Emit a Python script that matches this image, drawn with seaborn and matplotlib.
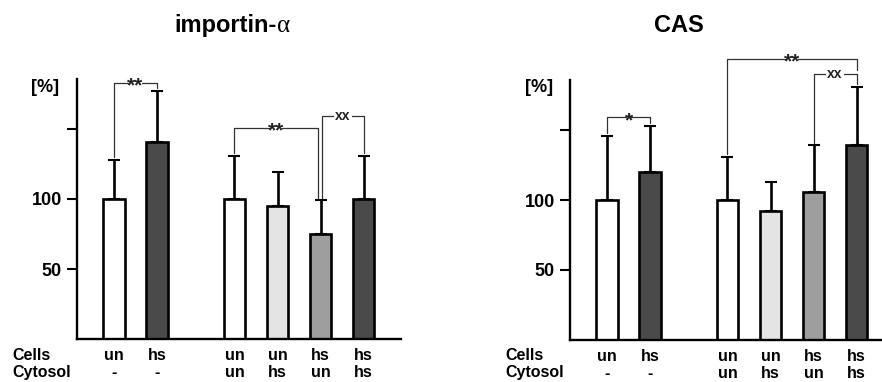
import pandas as pd
import numpy as np
import matplotlib
matplotlib.use('Agg')
import matplotlib.pyplot as plt
import seaborn as sns

# ── Data ─────────────────────────────────────────────────────────────────────
positions = [0, 1, 2.8, 3.8, 4.8, 5.8]
cells     = ['un', 'hs', 'un', 'un', 'hs', 'hs']
cytosol   = ['-', '-', 'un', 'hs', 'un', 'hs']
bar_ids   = ['b0', 'b1', 'b2', 'b3', 'b4', 'b5']
bar_cols  = ['#ffffff', '#4a4a4a', '#ffffff', '#e4e4e4', '#9e9e9e', '#4a4a4a']

imp_mean = [100, 141, 100, 95, 75, 100]
imp_err  = [28, 36, 31, 24, 24, 31]
cas_mean = [100, 120, 100, 92, 106, 139]
cas_err  = [46, 33, 31, 21, 33, 42]

# brackets: (left bar, right bar, height, label, left leg end, right leg end, left shift, right shift)
imp_brackets = [(0, 1, 183, '**', 130, 179, 0, 0),
                (2, 4, 151, '**', 133, 101, 0, -0.07),
                (4, 5, 159, 'xx', 101, 133, 0.03, 0)]
cas_brackets = [(0, 1, 159, '*', 148, 155, 0, 0),
                (2, 5, 201, '**', 133, 193, 0, 0),
                (4, 5, 190, 'xx', 141, 183, 0, 0)]

# ── Style ────────────────────────────────────────────────────────────────────
sns.set_style('ticks')
plt.rcParams['font.family'] = ['Liberation Sans', 'DejaVu Sans']
plt.rcParams['font.weight'] = 'bold'
plt.rcParams['text.color'] = 'black'
plt.rcParams['ytick.color'] = 'black'
plt.rcParams['axes.edgecolor'] = 'black'

fig = plt.figure(figsize=(8.82, 3.82), dpi=100)
W, H = 882, 382
ax_imp = fig.add_axes([77 / W, 1 - 339 / H, 324 / W, 287 / H])
ax_cas = fig.add_axes([570 / W, 1 - 340 / H, 324 / W, 287 / H])


def draw_panel(ax, means, errs, brackets):
    df = pd.DataFrame({'pos': positions, 'val': means, 'bar': bar_ids})
    sns.barplot(data=df, x='pos', y='val', hue='bar', palette=dict(zip(bar_ids, bar_cols)),
                native_scale=True, dodge=False, width=0.49, errorbar=None,
                edgecolor='black', linewidth=1.9, legend=False, ax=ax)
    ax.errorbar(positions, means, yerr=[np.zeros(len(errs)), errs], fmt='none',
                ecolor='black', elinewidth=1.9, capsize=4, capthick=1.5, zorder=3)
    for i, j, y, lab, yl, yr, dl, dr in brackets:
        xl, xr = positions[i] + dl, positions[j] + dr
        ax.plot([xl, xl, xr, xr], [yl, y, y, yr], color='#333333', lw=0.9,
                clip_on=False, zorder=2)
        if '*' in lab:
            ax.text((xl + xr) / 2, y - 2.5, lab, ha='center', va='center', fontsize=15,
                    fontweight='bold', color='#222222', zorder=4,
                    bbox=dict(facecolor='white', edgecolor='none', pad=-1.5))
        else:
            ax.text((xl + xr) / 2, y, lab, ha='center', va='center', fontsize=10,
                    fontweight='bold', color='#222222', zorder=4,
                    bbox=dict(facecolor='white', edgecolor='none', pad=0.8))
    ax.set_xlim(-0.86, 6.67)
    ax.set_ylim(0, 205)
    ax.set_xlabel('')
    ax.set_ylabel('')
    ax.set_xticks([])
    ax.set_yticks([50, 100, 150])
    ax.set_yticklabels(['50', '100', ''])
    ax.tick_params(axis='y', length=7, width=1.5, pad=4, labelsize=13, colors='black')
    for s in ['top', 'right']:
        ax.spines[s].set_visible(False)
    ax.spines['left'].set_bounds(0, 186)
    ax.spines['left'].set_linewidth(1.7)
    ax.spines['bottom'].set_linewidth(1.7)
    tr = ax.get_xaxis_transform()
    for p, c, cy in zip(positions, cells, cytosol):
        ax.text(p, -0.056, c, transform=tr, ha='center', va='center', fontsize=11.5,
                fontweight='bold', clip_on=False)
        ax.text(p, -0.118, cy, transform=tr, ha='center', va='center', fontsize=11.5,
                fontweight='bold', clip_on=False)


draw_panel(ax_imp, imp_mean, imp_err, imp_brackets)
draw_panel(ax_cas, cas_mean, cas_err, cas_brackets)

# row labels and units
for x0 in [12, 505]:
    fig.text(x0 / W, 1 - 355 / H, 'Cells', ha='left', va='center', fontsize=11.5, fontweight='bold')
    fig.text(x0 / W, 1 - 373 / H, 'Cytosol', ha='left', va='center', fontsize=11.5, fontweight='bold')
for xc in [45, 539]:
    fig.text(xc / W, 1 - 88 / H, '[%]', ha='center', va='center', fontsize=13, fontweight='bold')

# titles
t = fig.text(277 / W, 1 - 32 / H, 'importin-', ha='right', va='baseline',
             fontsize=17, fontweight='bold')
plt.annotate('α', xy=(1, 0), xycoords=t, ha='left', va='bottom',
             fontsize=18, fontweight='normal', family='Liberation Serif')
fig.text(679 / W, 1 - 32 / H, 'CAS', ha='center', va='baseline',
         fontsize=17, fontweight='bold')

fig.savefig('out.png', dpi=100)
